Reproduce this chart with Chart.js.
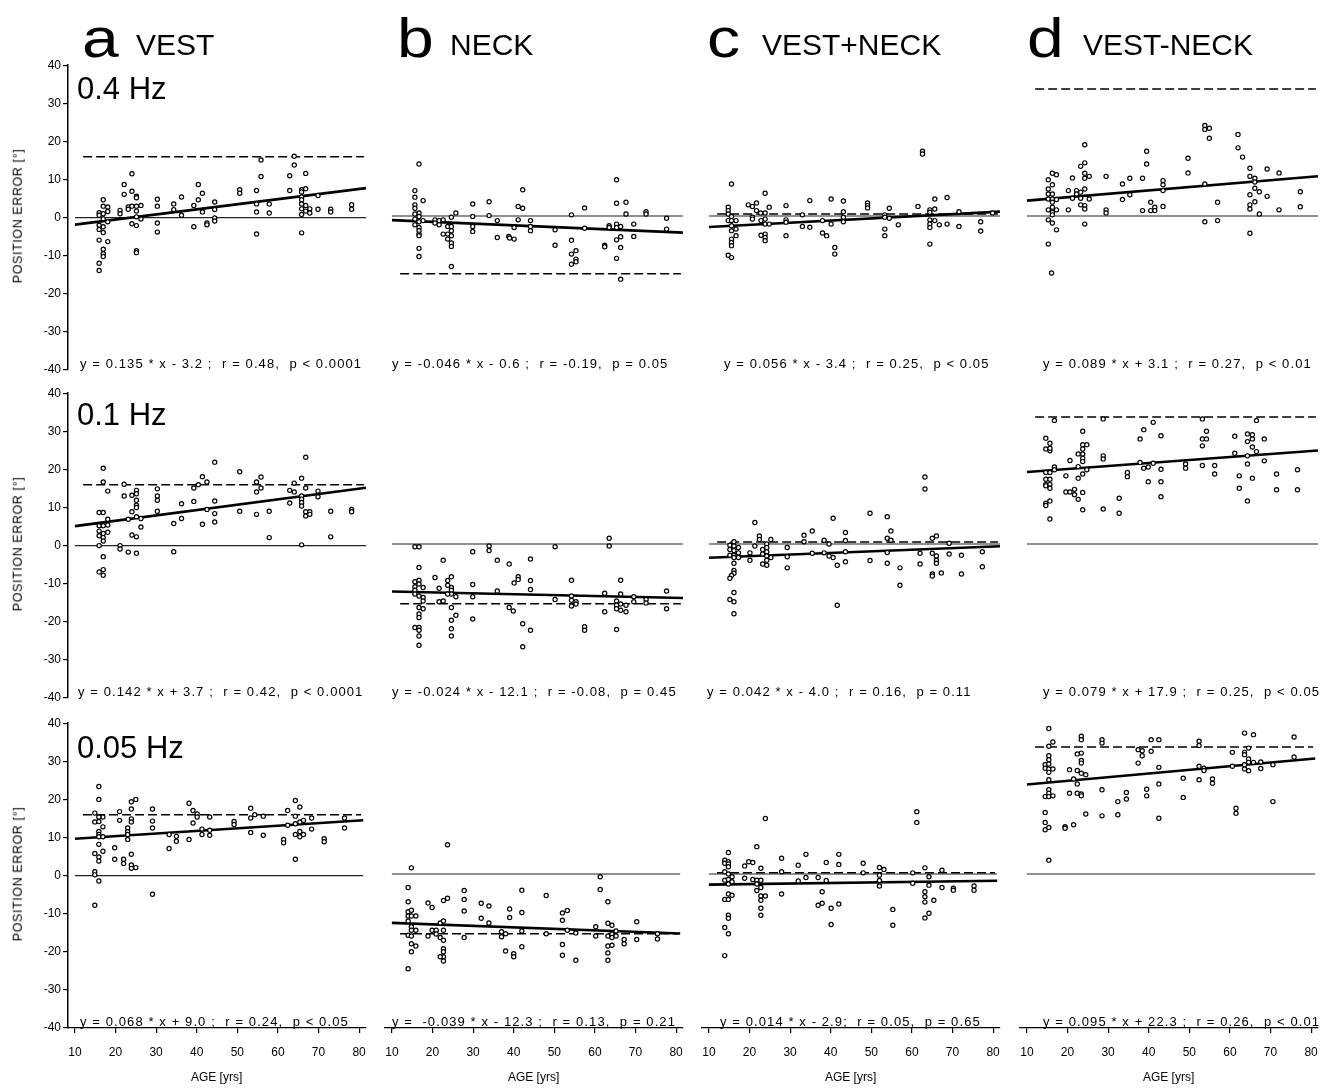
<!DOCTYPE html>
<html>
<head>
<meta charset="utf-8">
<script src="https://cdn.jsdelivr.net/npm/chart.js@4.4.1/dist/chart.umd.min.js"></script>
<style>
body { margin: 0; background: #fff; width: 1337px; height: 1090px; position: relative; overflow: hidden; font-family: "Liberation Sans", Arial, sans-serif; color: #000; }
canvas { position: absolute; }
.lbl { position: absolute; white-space: pre; line-height: 1; }
.letter { font-size: 56px; transform: scaleX(1.18); transform-origin: left top; }
.ctitle { font-size: 30px; }
.hz { font-size: 31px; }
.eq { font-size: 13px; letter-spacing: 1.1px; }
.ytitle { font-size: 12.5px; letter-spacing: 0.6px; transform: translate(-50%, -50%) rotate(-90deg); }
</style>
</head>
<body>
<script>
// tick labels
const xTicks = [10, 20, 30, 40, 50, 60, 70, 80];
const yTicks = [-40, -30, -20, -10, 0, 10, 20, 30, 40];
// age range covered by the fitted, zero and reference lines
const lineSpan = [10, 81];
const dashSpan = [12, 80.5];

const letters = ["a", "b", "c", "d"];
const columns = ["VEST", "NECK", "VEST+NECK", "VEST-NECK"];
const rowLabels = ["0.4 Hz", "0.1 Hz", "0.05 Hz"];

// regression lines [row][col]
const slopes = [[0.135, -0.046, 0.056, 0.089], [0.142, -0.024, 0.042, 0.079], [0.068, -0.039, 0.014, 0.095]];
const intercepts = [[-3.2, -0.6, -3.4, 3.1], [3.7, -12.1, -4.0, 17.9], [9.0, -12.3, -2.9, 22.3]];
const dashLevels = [[16, -15, 0.5, 33], [16, -15.5, 0.5, 33], [16, -15.5, 0.3, 33]];
const equations = [
    ["y = 0.135 * x - 3.2 ;  r = 0.48,  p < 0.0001", "y = -0.046 * x - 0.6 ;  r = -0.19,  p = 0.05", "y = 0.056 * x - 3.4 ;  r = 0.25,  p < 0.05", "y = 0.089 * x + 3.1 ;  r = 0.27,  p < 0.01"],
    ["y = 0.142 * x + 3.7 ;  r = 0.42,  p < 0.0001", "y = -0.024 * x - 12.1 ;  r = -0.08,  p = 0.45", "y = 0.042 * x - 4.0 ;  r = 0.16,  p = 0.11", "y = 0.079 * x + 17.9 ;  r = 0.25,  p < 0.05"],
    ["y = 0.068 * x + 9.0 ;  r = 0.24,  p < 0.05", "y =  -0.039 * x - 12.3 ;  r = 0.13,  p = 0.21", "y = 0.014 * x - 2.9;  r = 0.05,  p = 0.65", "y = 0.095 * x + 22.3 ;  r = 0.26,  p < 0.01"]
];

// [age, position error] per panel
const vest04 = [[16.9,4.7],[16.9,3.0],[18.0,2.8],[18.0,1.6],[15.9,1.3],[16.9,1.0],[15.9,0.6],[16.9,-0.3],[18.0,-1.1],[15.9,-2.0],[16.9,-2.4],[15.9,-3.1],[16.9,-3.9],[15.9,-5.9],[18.0,-6.3],[16.9,-8.3],[16.9,-9.5],[16.9,-10.2],[15.9,-12.0],[15.9,-13.9],
    [21,1.9],[21,1.0],[22,8.7],[22,6.1],[23,2.8],[23,2.2],[23.9,11.5],[23.9,6.9],[23.9,3.0],[23.9,-1.6],[25,5.6],[25,5.2],[25,3.0],[25,1.7],[25,0.2],[25,-2.1],[25,-8.7],[25,-9.2],[26.1,3.2],[26.1,-0.4],
    [30.1,4.8],[30.1,3.0],[30.1,-1.4],[30.1,-3.8],[34.1,3.6],[34.1,2.1],[36,5.4],[36,0.6],[39,-2.4],[39,3.2],[40.1,4.7],[40.1,8.7],[41.1,6.4],[41.1,1.5],[42.2,-1.4],[42.2,-1.9],[44.1,4.1],[44.1,2.1],[44.1,-0.1],[44.1,-0.9],
    [50.2,7.3],[50.2,6.4],[54.3,7.1],[54.3,3.6],[54.3,1.5],[54.3,-4.3],[55.4,15.1],[55.4,10.8],[57.4,3.6],[57.4,1.2],
    [62.4,7.1],[62.4,11.0],[63.5,16.1],[63.5,13.8],[65.3,7.3],[65.3,6.7],[65.3,5.4],[65.3,4.7],[65.3,3.6],[65.3,2.3],[65.3,0.8],[65.3,-4.0],[66.3,11.6],[66.3,7.6],[66.3,3.2],[66.3,1.7],[67.3,2.3],[67.3,1.2],[69.3,5.8],[69.3,2.2],[72.4,2.2],[72.4,1.5],[77.5,3.4],[77.5,2.2]];

const neck04 = [[16.6,13.5],[15.6,6.6],[15.6,4.9],[15.6,2.9],[15.6,2.0],[17.6,4.0],[16.6,0.8],[15.6,0.5],[16.6,-0.1],[15.6,-0.8],[16.6,-1.5],[17.6,-1.2],[15.6,-2.3],[16.6,-3.0],[16.6,-3.8],[16.6,-4.7],[16.6,-5.1],[16.6,-8.4],[16.6,-10.5],
    [20.5,-1.0],[20.5,-1.8],[21.5,-1.2],[21.5,-2.3],[22.5,-1.0],[22.5,-4.7],[23.6,-2.7],[23.6,-4.7],[23.6,-6.0],[24.5,-0.3],[24.5,-2.7],[24.5,-3.8],[24.5,-5.1],[24.5,-7.0],[24.5,-7.9],[24.5,-13.1],[25.6,0.8],
    [29.7,3.1],[29.7,-0.1],[29.7,-2.7],[29.7,-4.0],[33.7,3.7],[33.7,0.1],[35.7,-1.2],[35.7,-5.6],[38.5,-5.3],[38.7,-5.7],[39.8,-6.0],[39.8,-3.0],[40.8,2.5],[40.8,-1.0],[41.9,6.8],[41.9,2.0],[43.8,-1.2],[43.8,-2.7],[43.8,-3.8],
    [49.8,-3.6],[49.8,-7.6],[53.8,0.3],[53.8,-6.3],[53.8,-9.9],[53.8,-12.5],[54.9,-9.0],[54.9,-11.2],[54.9,-11.9],[57,2.1],[57,-3.2],
    [61.9,-7.6],[61.9,-8.0],[63,-2.5],[63,-3.0],[64.8,9.4],[64.8,3.3],[64.8,-2.1],[64.8,-3.0],[64.8,-6.2],[64.8,-11.0],[65.8,-2.7],[65.8,-5.4],[65.8,-8.2],[65.8,-16.4],[67.1,3.6],[67.1,0.5],[69,-2.1],[69,-5.3],[72,1.1],[72,0.5],[77,-0.6],[77,-3.4]];

const vn04 = [[15.5,8.3],[14.7,2.3],[14.7,1.4],[14.7,0.5],[14.7,-1.2],[15.5,-0.1],[15.5,-1.2],[15.5,-2.5],[15.5,-3.8],[16.6,-3.4],[16.6,-5.1],[15.5,-6.0],[15.5,-6.9],[15.5,-7.7],[14.7,-10.2],[15.5,-10.8],[16.6,-1.2],
    [19.6,2.9],[20.6,2.5],[21.6,3.4],[20.6,-0.3],[21.6,1.4],[22.6,0.8],[23.7,5.9],[23.7,0.8],[23.7,-0.8],[23.7,-2.1],[23.7,-4.7],[23.7,-5.6],[23.7,-6.4],[22.7,-5.0],[24.7,2.3],[24.7,-2.1],[20.6,-0.8],[22.7,-1.2],
    [28.8,2.7],[28.8,-1.0],[28.8,-1.6],[28.8,-5.1],[32.8,0.3],[32.8,-2.7],[34.6,4.0],[34.6,-2.9],[37.7,-1.2],[37.7,-4.4],[38.7,-5.1],[39.8,4.4],[39.8,-2.1],[40.7,-8.2],[40.7,-9.9],[42.8,3.9],[42.8,1.1],[42.8,-0.3],[42.8,-1.5],
    [48.7,3.4],[48.7,2.7],[48.7,2.1],[52.9,0.3],[52.9,-0.3],[52.9,-3.4],[52.9,-5.1],[54,2.0],[54,-0.6],[56.2,-2.3],
    [61,2.5],[62.1,16.8],[62.1,16.1],[63.9,1.6],[63.9,1.0],[63.9,-1.0],[63.9,-2.1],[63.9,-3.0],[65.1,4.4],[65.1,1.8],[65.1,-1.2],[66.2,-2.3],[63.9,-7.3],[68.1,4.8],[68.1,-2.1],[71,1.1],[71,-2.7],[76.3,-1.5],[76.3,-3.9],[79.2,0.8]];

const vmn04 = [[15.2,9.4],[16.2,11.1],[17.2,10.7],[15.2,7.0],[16.2,8.1],[15.2,5.7],[16.2,5.7],[15.2,4.4],[16.2,4.4],[17.2,4.3],[16.2,3.6],[15.2,1.6],[16.2,2.3],[17.2,1.6],[16.2,1.0],[15.2,-1.0],[16.2,-1.8],[17.2,-3.6],[15.2,-7.3],[16,-14.8],[16.2,0.3],
    [20.1,6.6],[20.1,1.6],[21.1,9.9],[21.1,4.6],[22.1,6.6],[23.1,12.9],[23.1,6.2],[23.1,4.6],[23.1,2.9],[24.1,18.5],[24.1,13.8],[24.1,11.1],[24.1,9.8],[24.1,7.0],[24.1,2.7],[24.1,1.8],[24.1,-2.1],[25.2,10.3],[25.2,4.4],[22.1,5.7],
    [29.3,10.3],[29.3,1.6],[29.3,0.8],[33.3,8.3],[33.3,4.3],[35.1,9.8],[35.1,5.5],[38.2,9.8],[38.2,1.4],[39.2,16.8],[39.2,13.5],[40.2,3.6],[40.2,1.4],[41.2,2.3],[41.2,1.4],[43.2,9.2],[43.2,8.1],[43.2,6.6],[43.2,2.5],
    [49.3,15.0],[49.3,11.2],[53.4,23.5],[53.4,22.5],[54.5,22.8],[54.5,20.2],[53.4,8.3],[53.4,-1.5],[56.5,3.6],[56.5,-1.2],
    [61.5,21.2],[61.5,17.7],[62.6,15.3],[64.4,12.4],[64.4,10.3],[64.4,5.5],[64.4,2.9],[64.4,1.8],[65.6,9.8],[65.6,8.8],[65.6,7.2],[65.6,3.7],[64.4,-4.5],[66.7,6.3],[66.7,0.5],[68.6,12.2],[68.6,5.1],[71.5,11.2],[71.5,1.6],[76.7,6.3],[76.7,2.4]];

const vest01 = [[16.9,20.3],[16.9,16.7],[18,14.3],[15.9,8.7],[16.9,8.7],[15.9,5.2],[16.9,5.2],[18,6.9],[18,5.4],[15.9,3.8],[16.9,3.2],[18,3.5],[15.9,2.6],[16.9,2.1],[16.9,1.2],[15.9,0],[16.9,-2.9],[15.9,-6.9],[16.9,-6.3],[16.9,-7.8],
    [21,0],[21,-0.9],[22,16.1],[22,13.0],[23,-1.7],[23,6.9],[23.9,13.2],[23.9,8.9],[23.9,2.8],[25,14.5],[25,13.6],[25,11.9],[25,10.6],[25,10.0],[25,7.6],[25,2.3],[25,-2.0],[26.1,7.1],[26.1,4.9],
    [30.1,14.9],[30.1,13.0],[30.1,11.9],[30.1,9.0],[34.1,5.8],[34.1,-1.6],[36,11.0],[36,7.1],[39,11.6],[39,15.1],[40.1,16.0],[41.1,18.1],[41.1,5.6],[42.2,16.7],[42.2,9.5],[44.1,21.9],[44.1,11.7],[44.1,8.4],[44.1,6.2],
    [50.2,19.4],[50.2,9.0],[54.3,16.7],[54.3,14.1],[54.3,8.2],[55.4,18.0],[55.4,15.1],[57.4,9.0],[57.4,2.1],
    [62.4,14.5],[62.4,11.2],[63.5,16.4],[63.5,14.1],[65.3,17.7],[65.3,13.0],[65.3,12.2],[65.3,11.3],[65.3,10.4],[65.3,0.2],[66.3,23.2],[66.3,15.1],[66.3,8.9],[66.3,7.8],[67.3,8.9],[67.3,8.2],[69.3,14.3],[69.3,12.8],[72.4,9.0],[72.4,2.3],[77.5,9.5],[77.5,8.9]];

const neck01 = [[15.6,-0.7],[16.6,-0.7],[16.6,-6.1],[15.6,-9.8],[16.6,-9.4],[16.6,-10.4],[15.6,-11.1],[15.6,-12.0],[17.6,-11.3],[15.6,-13.0],[16.6,-13.5],[17.6,-13.9],[17.6,-14.8],[16.6,-16.5],[17.6,-16.8],[16.6,-18.2],[16.6,-19.1],[15.6,-21.7],[16.6,-21.7],[16.6,-22.4],[16.6,-23.9],[16.6,-26.3],
    [20.5,-8.7],[21.5,-11.5],[21.5,-15.0],[22.5,-14.8],[23.6,-9.5],[23.6,-10.7],[24.5,-8.5],[24.5,-11.3],[24.5,-12.0],[24.5,-13.0],[23.6,-13.0],[25.6,-13.7],[22.5,-4.2],[24.5,-16.5],[25.6,-18.5],[24.5,-19.8],[24.5,-22.0],[24.5,-23.9],
    [29.7,-2.0],[29.7,-10.5],[29.7,-13.7],[29.7,-19.5],[33.7,-0.5],[33.7,-1.7],[35.7,-4.2],[35.7,-12.2],[38.6,-5.2],[38.6,-16.5],[39.6,-17.4],[39.8,-10.1],[40.8,-8.5],[40.8,-9.2],[41.9,-20.7],[41.9,-26.7],[43.8,-3.9],[43.8,-9.5],[43.8,-11.8],[43.8,-22.4],
    [49.8,-0.7],[49.8,-14.4],[53.8,-9.4],[53.8,-13.5],[53.8,-14.6],[53.8,-16.1],[54.9,-15.0],[54.9,-15.6],[57,-21.5],[57,-22.4],
    [61.9,-12.8],[61.9,-17.6],[63,1.5],[63,-0.5],[64.8,-14.8],[64.8,-15.9],[64.8,-16.8],[64.8,-22.2],[65.8,-9.4],[65.8,-13.0],[65.8,-15.6],[65.8,-17.2],[67.1,-15.9],[67.1,-17.6],[69,-13.7],[69,-15.0],[72,-14.4],[72,-15.3],[77,-12.2],[77,-16.8]];

const vn01 = [[16.1,0.6],[15.1,-0.3],[16.1,-0.5],[17.2,-0.9],[15.1,-1.4],[16.1,-1.7],[17.2,-2.3],[15.1,-2.9],[16.1,-2.9],[17.2,-3.5],[16.1,-5.0],[16.1,-6.9],[16.1,-7.6],[15.5,-8.2],[15.1,-8.9],[16.1,-12.6],[15.1,-14.4],[16.1,-15.0],[16.1,-18.1],[16.1,-3.5],
    [21.2,5.6],[22.3,2.1],[22.3,1.2],[21.2,-0.5],[20,-2.3],[20,-4.2],[23.1,-1.4],[23.1,-2.6],[23.1,-5.2],[24.1,0],[24.1,-0.9],[24.1,-2.0],[24.1,-3.1],[24.1,-4.2],[24.1,-5.5],[25.1,1.2],[25.1,-3.5],
    [29.1,-0.9],[29.1,-3.3],[29.1,-6.2],[33.2,2.3],[33.2,0.6],[35.2,3.4],[35.2,-2.4],[38.1,1.0],[38.1,-2.3],[39.3,0],[39.3,-3.1],[40.3,6.7],[40.3,-3.5],[41.3,-5.5],[41.3,-15.9],[43.3,3.0],[43.3,0.9],[43.3,-2.0],[43.3,-4.6],
    [49.3,8.0],[49.3,-4.3],[53.5,7.1],[53.5,1.5],[53.5,-2.2],[53.5,-5.0],[54.4,3.4],[54.4,1.0],[56.6,-6.2],[56.6,-10.7],
    [61.5,-2.4],[61.5,-5.2],[62.7,17.4],[62.7,14.3],[64.5,1.5],[64.5,-2.4],[64.5,-7.8],[64.5,-8.3],[65.5,2.1],[65.5,-3.1],[65.5,-4.2],[65.5,-5.0],[66.7,-7.5],[68.6,0.2],[68.6,-2.6],[71.6,-2.9],[71.6,-7.8],[76.7,-2.0],[76.7,-5.9]];

const vmn01 = [[14.6,27.5],[15.6,26.2],[14.6,24.7],[15.6,24.2],[15.6,24.9],[16.7,32.1],[16.7,20.0],[16.7,19.3],[14.6,18.6],[15.6,18.6],[14.6,16.8],[15.6,16.8],[14.6,15.5],[15.6,15.5],[15.6,14.5],[14.6,15.1],[15.6,11.2],[14.6,10.6],[14.6,10.0],[15.6,6.5],
    [19.5,17.7],[20.5,21.7],[19.5,13.5],[20.5,13.5],[21.6,14.2],[21.6,12.8],[22.5,20.1],[22.5,17.1],[22.5,11.6],[22.5,23.4],[23.6,29.3],[23.6,25.8],[23.6,24.7],[23.6,23.4],[23.6,22.3],[23.6,21.4],[23.6,18.2],[23.6,13.4],[23.6,8.9],[24.6,25.8],[24.6,19.3],
    [28.6,32.5],[28.6,22.9],[28.6,22.1],[28.6,9.1],[32.5,11.9],[32.5,8.0],[34.5,18.6],[34.5,17.5],[37.6,27.3],[37.6,21.2],[38.5,29.7],[38.5,19.7],[39.6,20.0],[39.6,16.2],[40.8,31.6],[40.8,21.0],[42.7,28.1],[42.7,19.4],[42.7,16.2],[42.7,12.3],
    [48.7,20.8],[48.7,19.7],[52.8,32.5],[52.8,27.3],[52.8,25.5],[52.8,20.4],[53.8,29.3],[53.8,27.3],[55.8,20.4],[55.8,18.2],
    [60.7,28.0],[60.7,23.6],[61.8,17.7],[61.8,14.5],[63.8,28.6],[63.8,26.6],[63.8,22.9],[63.8,20.8],[63.8,11.2],[65,28.4],[65,27.3],[65,25.2],[65,17.1],[66,32.1],[66,24.0],[67.9,27.3],[67.9,21.6],[70.9,18.2],[70.9,14.1],[76,19.3],[76,14.1]];

const vest005 = [[15.9,23.4],[15.9,20.0],[14.9,16.4],[16.9,15.4],[14.9,14.1],[15.9,14.2],[15.9,15.4],[16.9,12.8],[15.9,11.6],[15.9,10.8],[15.9,10.2],[16.9,10.2],[15.9,8.2],[16.9,6.4],[14.9,5.8],[15.9,4.9],[15.9,3.8],[14.9,1.0],[14.9,0.2],[15.9,-1.4],[14.9,-7.8],
    [19.8,7.3],[19.8,4.3],[21,16.8],[21,14.5],[22,4.3],[22,3.2],[23,12.5],[23,11.5],[23,10.8],[23,9.5],[23.9,19.4],[23.9,17.5],[23.9,14.9],[23.9,14.1],[23.9,5.6],[23.9,2.8],[23.9,1.9],[25,20.0],[25,2.1],
    [29.1,17.5],[29.1,14.3],[29.1,12.5],[29.1,-4.9],[33.2,10.8],[33.2,7.1],[35,10.3],[35,9.0],[38.1,19.0],[38.1,9.5],[39.1,17.1],[39.1,13.8],[40.1,16.2],[40.1,15.4],[41.3,12.2],[41.3,10.8],[43.2,15.4],[43.2,11.9],[43.2,10.6],
    [49.2,14.2],[49.2,13.4],[53.3,17.7],[53.3,15.1],[53.3,11.3],[54.3,16.0],[56.4,15.6],[56.4,10.6],
    [61.4,9.5],[61.4,8.6],[62.4,17.1],[62.4,13.2],[64.3,19.7],[64.3,15.6],[64.3,13.6],[64.3,10.8],[64.3,4.3],[65.4,18.0],[65.4,14.1],[65.4,11.6],[65.4,10.2],[66.3,14.5],[66.3,10.8],[68.3,15.1],[68.3,12.2],[71.4,9.7],[71.4,8.9],[76.4,15.1],[76.4,12.5]];

const neck005 = [[14.8,1.6],[14,-3.5],[14,-7.2],[14,-9.8],[14.8,-9.4],[14,-10.9],[14.8,-10.9],[15.9,-10.9],[14,-12.2],[14.8,-13.7],[14.8,-14.6],[15.9,-14.6],[14,-15.9],[14.8,-16.1],[14.8,-18.1],[15.9,-18.7],[14.8,-20.2],[14,-24.6],
    [23.7,7.6],[18.9,-7.5],[19.9,-8.7],[19.9,-14.6],[20.9,-14.6],[18.9,-16.1],[20.9,-15.6],[21.9,-12.7],[22.7,-12.2],[21.9,-16.5],[22.7,-6.9],[23.7,-6.3],[22.7,-14.6],[22.7,-17.2],[22.7,-19.4],[22.7,-20.2],[22.7,-21.5],[22.7,-22.6],[21.9,-21.5],
    [27.8,-4.3],[27.8,-6.6],[27.8,-9.6],[27.8,-16.5],[32,-7.6],[32,-11.5],[33.9,-8.3],[33.9,-12.7],[37,-15.0],[37,-16.3],[38,-15.5],[38,-20.0],[39,-9.1],[39,-11.3],[40,-20.7],[40,-21.5],[42,-4.2],[42,-10.0],[42,-14.8],[42,-18.9],
    [48,-5.6],[48,-15.5],[52,-10.1],[52,-12.0],[52,-18.3],[52,-21.1],[53.2,-9.5],[53.2,-14.6],[55.3,-15.3],[55.3,-22.4],
    [60.2,-13.7],[60.2,-16.1],[61.3,-0.7],[61.3,-4.0],[63.2,-7.2],[63.2,-12.8],[63.2,-16.1],[63.2,-18.7],[63.2,-20.5],[63.2,-22.4],[64.2,-13.3],[64.2,-15.6],[64.2,-16.5],[64.2,-18.5],[65.2,-14.8],[65.2,-16.1],[67.2,-17.0],[67.2,-18.1],[70.3,-12.4],[70.3,-17.0],[75.4,-15.5],[75.4,-16.9]];

const vn005 = [[14.8,5.6],[13.9,3.6],[13.9,2.8],[14.8,3.2],[14.8,2.6],[14.8,1.9],[13.9,0.6],[14.8,0],[15.7,-0.7],[13.9,-1.6],[14.8,-1.4],[14.8,-2.6],[15.7,-2.0],[14.8,-5.2],[15.7,-5.5],[13.9,-6.6],[14.8,-6.6],[14.8,-10.7],[14.8,-11.5],[13.9,-13.9],[14.8,-15.5],[13.9,-21.2],
    [18.8,2.1],[18.8,-1.1],[19.8,3.2],[20.8,3.0],[20.8,-1.4],[21.8,7.1],[21.8,-1.6],[21.8,-2.6],[21.8,-4.3],[22.8,1.5],[22.8,-1.6],[22.8,-3.5],[22.8,-5.7],[22.8,-6.8],[22.8,-8.9],[22.8,-10.7],[23.9,14.4],[23.9,-5.7],
    [27.9,4.1],[27.9,0.6],[27.9,-5.2],[32,2.3],[32,-1.8],[33.9,5.1],[33.9,-0.9],[36.9,-0.9],[36.9,-8.1],[37.9,-4.6],[37.9,-7.6],[38.9,3.0],[38.9,-1.7],[40.1,-8.9],[40.1,-13.1],[42,5.1],[42,2.5],[42,-7.8],
    [48,2.8],[48,0.3],[52,1.7],[52,-0.3],[52,-1.7],[52,-3.1],[53.1,1.2],[55.3,-9.2],[55.3,-13.3],
    [60.2,0.3],[60.2,-2.4],[61.2,16.2],[61.2,13.4],[63.2,1.6],[63.2,-4.6],[63.2,-5.9],[63.2,-7.3],[63.2,-11.4],[64.2,-0.7],[64.2,-2.9],[64.2,-10.2],[65.4,-6.8],[67.4,1.0],[67.4,-3.5],[70.2,-3.7],[70.2,-4.2],[75.3,-3.1],[75.3,-4.2]];

const vmn005 = [[14.5,40.7],[15.4,37.8],[15.4,33.2],[16.4,34.3],[15.4,30.7],[15.4,29.7],[14.5,28.4],[15.4,28.6],[14.5,27.5],[15.4,27.3],[16.4,27.3],[15.4,26.4],[15.4,24.5],[15.4,21.9],[15.4,21.0],[14.5,20.1],[15.4,20.1],[16.4,20.3],[14.5,16.0],[14.5,13.4],[14.5,11.5],[15.4,12.1],[15.4,3.6],
    [19.4,12.3],[19.4,11.9],[20.5,27.1],[20.5,21.0],[21.5,24.7],[21.5,12.8],[22.4,26.9],[22.4,23.4],[22.4,21.0],[23.4,35.8],[23.4,34.9],[23.4,31.4],[23.4,29.5],[23.4,28.8],[23.4,26.2],[23.4,20.8],[23.4,20.3],[22.4,31.2],[24.5,25.8],[24.5,15.6],
    [28.5,34.9],[28.5,34.0],[28.5,21.9],[28.5,15.1],[32.4,18.8],[32.4,15.4],[34.5,21.2],[34.5,19.5],[37.4,28.8],[37.4,32.3],[38.4,32.0],[38.4,30.7],[39.5,22.0],[39.5,20.3],[40.6,34.9],[40.6,31.9],[42.5,34.9],[42.5,27.7],[42.5,23.4],[42.5,14.5],
    [48.5,24.9],[48.5,19.9],[52.4,34.5],[52.4,33.4],[52.4,28.0],[52.4,24.5],[53.6,27.5],[53.6,26.9],[55.7,24.7],[55.7,23.6],
    [60.6,31.6],[60.6,28.0],[61.5,17.1],[61.5,15.8],[63.6,36.6],[63.6,31.6],[63.6,31.0],[63.6,28.4],[63.6,27.3],[64.6,32.7],[64.6,29.9],[64.6,29.0],[64.6,26.8],[65.8,36.2],[65.8,29.0],[67.6,29.1],[67.6,27.4],[70.6,28.4],[70.6,18.8],[75.8,35.6],[75.8,30.4]];

const panels = [
    [vest04, neck04, vn04, vmn04],
    [vest01, neck01, vn01, vmn01],
    [vest005, neck005, vn005, vmn005]
];

// layout
const colLeft = [68, 385, 702, 1020];
const rowTop = [62, 390, 720];
const plotW = 300, plotH = 308;
const padL = 60, padT = 6, padR = 10, padB = 60;
const eqLeft = [[80, 392, 724, 1043], [78, 392, 707, 1043], [80, 392, 720, 1043]];
const FONT = "'Liberation Sans', Arial, sans-serif";

function addLabel(text, cls, left, top) {
    const el = document.createElement("div");
    el.className = "lbl " + cls;
    el.textContent = text;
    el.style.left = left + "px";
    el.style.top = top + "px";
    document.body.appendChild(el);
    return el;
}

const fixTicks = (values) => (scale) => {
    scale.ticks = values.map((v) => ({ value: v }));
};

panels.forEach((row, r) => {
    row.forEach((points, c) => {
        const isLeft = c === 0;
        const isBottom = r === panels.length - 1;
        const canvas = document.createElement("canvas");
        canvas.width = padL + plotW + padR;
        canvas.height = padT + plotH + padB;
        canvas.style.left = (colLeft[c] - padL) + "px";
        canvas.style.top = (rowTop[r] - padT) + "px";
        document.body.appendChild(canvas);

        const m = slopes[r][c], b = intercepts[r][c], dash = dashLevels[r][c];

        new Chart(canvas, {
            type: "scatter",
            data: {
                datasets: [
                    {
                        data: points.map(([x, y]) => ({ x, y })),
                        pointRadius: 2.1,
                        pointBorderWidth: 1.2,
                        pointBorderColor: "#000",
                        pointBackgroundColor: "#fff",
                        order: 0,
                    },
                    {
                        data: lineSpan.map((x) => ({ x, y: m * x + b })),
                        showLine: true,
                        borderColor: "#000",
                        borderWidth: 2.6,
                        pointRadius: 0,
                        order: 1,
                    },
                    {
                        data: dashSpan.map((x) => ({ x, y: dash })),
                        showLine: true,
                        borderColor: "#000",
                        borderWidth: 1.5,
                        borderDash: [9, 4],
                        pointRadius: 0,
                        order: 2,
                    },
                    {
                        data: lineSpan.map((x) => ({ x, y: 0 })),
                        showLine: true,
                        borderColor: "#222",
                        borderWidth: 1.1,
                        pointRadius: 0,
                        order: 3,
                    },
                ],
            },
            options: {
                responsive: false,
                animation: false,
                events: [],
                layout: { padding: { top: padT, right: padR, left: 0, bottom: 0 } },
                plugins: { legend: { display: false }, tooltip: { enabled: false } },
                scales: {
                    x: {
                        type: "linear",
                        min: 8.3,
                        max: 81.5,
                        afterBuildTicks: fixTicks(xTicks),
                        afterFit: (s) => { s.height = padB; },
                        grid: { display: isBottom, drawOnChartArea: false, color: "#000", tickLength: 5, lineWidth: 1.2 },
                        border: { display: isBottom, color: "#000", width: 1.3 },
                        ticks: { display: isBottom, color: "#000", font: { family: FONT, size: 12 }, padding: 12, maxRotation: 0, autoSkip: false },
                        title: { display: isBottom, text: "AGE [yrs]", color: "#000", font: { family: FONT, size: 12 }, padding: { top: 0, bottom: 3 } },
                    },
                    y: {
                        type: "linear",
                        min: -40,
                        max: 40,
                        afterBuildTicks: fixTicks(yTicks),
                        afterFit: (s) => { s.width = padL; },
                        grid: { display: isLeft, drawOnChartArea: false, color: "#000", tickLength: 5, lineWidth: 1.2 },
                        border: { display: isLeft, color: "#000", width: 1.5 },
                        ticks: { display: isLeft, color: "#000", font: { family: FONT, size: 12 }, padding: 2 },
                    },
                },
            },
        });

        addLabel(equations[r][c], "eq", eqLeft[r][c], rowTop[r] + plotH - 13.3);
    });

    addLabel(rowLabels[r], "hz", 77, [72.5, 399, 732][r]);
    addLabel("POSITION ERROR [°]", "ytitle", 18, rowTop[r] + plotH / 2);
});

const letterLeft = [82, 397, 707, 1027];
const titleLeft = [136, 450, 762, 1083];
letters.forEach((l, i) => {
    addLabel(l, "letter", letterLeft[i], 10);
    addLabel(columns[i], "ctitle", titleLeft[i], 29.6);
});
</script>
</body>
</html>
